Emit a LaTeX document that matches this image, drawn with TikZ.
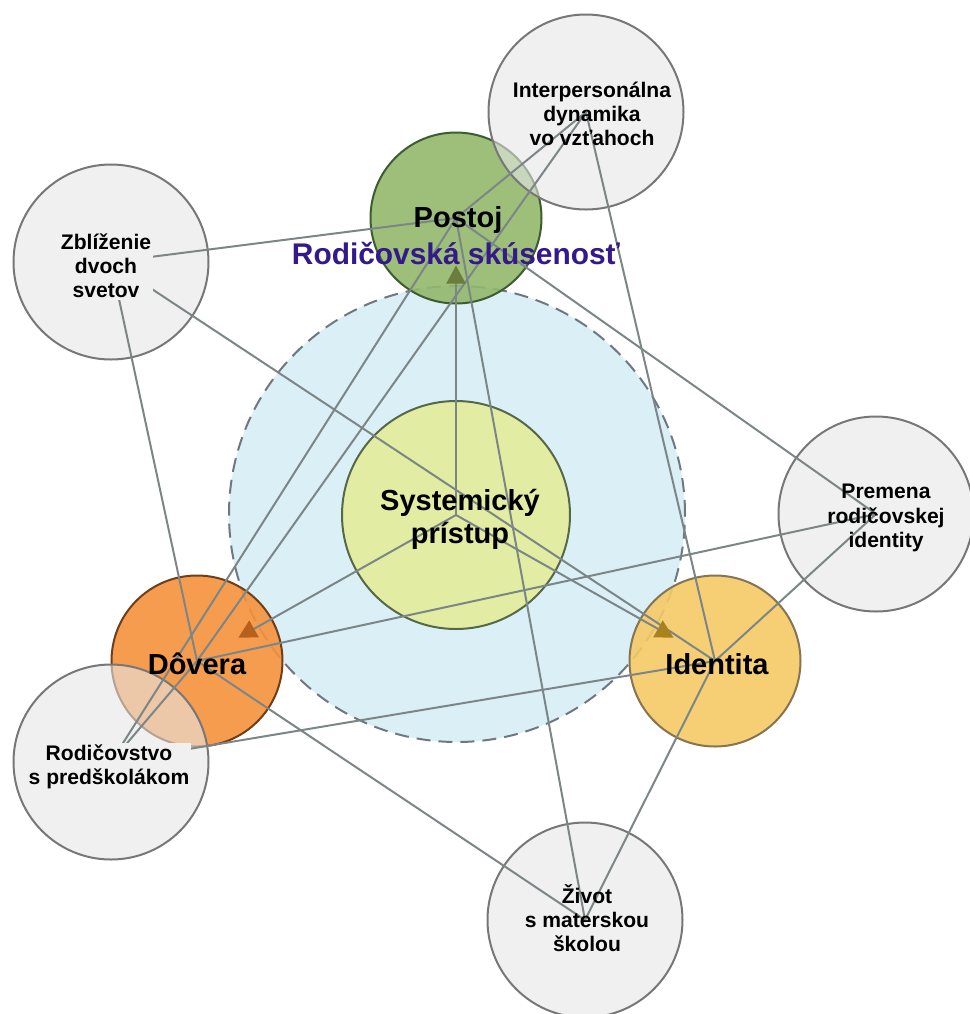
\documentclass[tikz,border=0pt]{standalone}
\usepackage{fontspec}
\setmainfont{Liberation Sans}
\usetikzlibrary{arrows.meta}

\begin{document}
\begin{tikzpicture}[x=0.2mm,y=-0.2mm]
  % Colors
  \definecolor{themefill}{HTML}{DBEFF7}
  \definecolor{themedraw}{HTML}{6F7880}
  \definecolor{themetext}{HTML}{33198A}
  \definecolor{sysfill}{HTML}{E2ECA2}
  \definecolor{sysdraw}{HTML}{56684A}
  \definecolor{postojfill}{HTML}{92B86C}
  \definecolor{postojdraw}{HTML}{3F5C30}
  \definecolor{doverafill}{HTML}{F5913C}
  \definecolor{doveradraw}{HTML}{6E3F18}
  \definecolor{identfill}{HTML}{F5CA66}
  \definecolor{identdraw}{HTML}{857552}
  \definecolor{subfill}{HTML}{E6E6E6}
  \definecolor{subbg}{HTML}{F0F0F0}
  \definecolor{subdraw}{HTML}{777777}
  \definecolor{linkcolor}{HTML}{7C8687}
  \definecolor{postojtip}{HTML}{6A7D3C}
  \definecolor{doveratip}{HTML}{B5611C}
  \definecolor{identtip}{HTML}{A8821E}

  % Styles
  \tikzstyle{bubble}=[circle,inner sep=0pt,outer sep=0pt,line width=0.4mm]
  \tikzstyle{category}=[bubble,minimum size=34.2mm,fill opacity=0.9]
  \tikzstyle{subtheme}=[bubble,minimum size=39mm,fill=subfill,draw=subdraw,fill opacity=0.6]
  \tikzstyle{link}=[linkcolor,line width=0.4mm]
  \tikzstyle{big text}=[font=\fontsize{16.5}{18.8}\selectfont\bfseries,align=center]
  \tikzstyle{small text}=[font=\fontsize{12}{13.7}\selectfont\bfseries,align=center,inner sep=1pt]
  \tikzstyle{theme text}=[font=\fontsize{17}{20}\selectfont\bfseries,text=themetext]

  \useasboundingbox (0,0) rectangle (970,1014);

  % The circles
  \node[bubble,minimum size=91.2mm,fill=themefill,draw=themedraw,
        dash pattern=on 2.8mm off 1.6mm] (theme) at (457,514) {};
  \node[bubble,minimum size=45.6mm,fill=sysfill,draw=sysdraw] (sys) at (456,515) {};
  \node[category,fill=postojfill,draw=postojdraw] (postoj) at (456,218) {};
  \node[category,fill=doverafill,draw=doveradraw] (dovera) at (197,661) {};
  \node[category,fill=identfill,draw=identdraw] (identita) at (715,661) {};

  \node[subtheme] (zbl) at (111,262) {};
  \node[subtheme] (inter) at (586,112) {};
  \node[subtheme] (premena) at (876,514) {};
  \node[subtheme] (rodic) at (111,762) {};
  \node[subtheme] (zivot) at (585,920) {};

  % Links from every subtheme to the categories
  \foreach \a in {zbl,inter,premena,rodic,zivot}
    \foreach \b in {postoj,dovera,identita}
      \draw[link] (\a.center) -- (\b.center);

  % Arrows from the centre
  \foreach \b/\c in {postoj/postojtip,dovera/doveratip,identita/identtip}
    \draw[link,shorten >=9.5mm,-{Triangle[length=3.6mm,width=3.8mm,color=\c]}]
      (sys.center) -- (\b.center);

  % Texts
  \node[big text] (sys-text) at (460,519) {Systemický\\prístup};
  \node[big text] (postoj-text) at (458,220) {Postoj};
  \node[big text] (dovera-text) at (197,664) {Dôvera};
  \node[big text] (identita-text) at (717,664) {Identita};
  \node[theme text] (theme-text) at (456,253) {Rodičovská skúsenosť};

  \node[small text,fill=subbg] (zbl-text) at (106,266) {Zblíženie\\dvoch\\svetov};
  \node[small text] (inter-text) at (592,114) {Interpersonálna\\dynamika\\vo vzťahoch};
  \node[small text] (premena-text) at (886,518) {Premena\\rodičovskej\\identity};
  \node[small text,fill=subbg] (rodic-text) at (109,767) {Rodičovstvo\\s predškolákom};
  \node[small text] (zivot-text) at (587,918) {Život\\s materskou\\školou};
\end{tikzpicture}
\end{document}
